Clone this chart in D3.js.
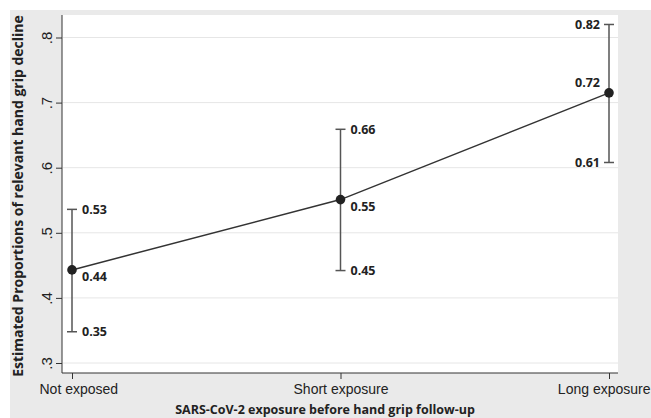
<!DOCTYPE html>
<html>
<head>
<meta charset="utf-8">
<script src="https://cdn.jsdelivr.net/npm/d3@7"></script>
<style>
  body { margin: 0; background: #fff; }
  svg { display: block; font-family: "Open Sans", "Liberation Sans", sans-serif; }
</style>
</head>
<body>
<div id="chart"></div>
<script>
var categories = ["Not exposed", "Short exposure", "Long exposure"];
var estimates = [0.443, 0.551, 0.715];
var lower = [0.348, 0.442, 0.608];
var upper = [0.536, 0.659, 0.820];
var labelsEst = ["0.44", "0.55", "0.72"];
var labelsLow = ["0.35", "0.45", "0.61"];
var labelsUp = ["0.53", "0.66", "0.82"];
var yTicks = [0.3, 0.4, 0.5, 0.6, 0.7, 0.8];

var width = 651, height = 418;

var svg = d3.select("#chart").append("svg")
  .attr("width", width)
  .attr("height", height);

// outer gray panel
svg.append("rect")
  .attr("x", 10).attr("y", 10)
  .attr("width", width - 10).attr("height", height - 10)
  .attr("fill", "#eaeaea");

var plot = { left: 62, right: 618, top: 15, bottom: 373 };

svg.append("rect")
  .attr("x", plot.left).attr("y", plot.top)
  .attr("width", plot.right - plot.left).attr("height", plot.bottom - plot.top)
  .attr("fill", "#fff");

var x = d3.scalePoint()
  .domain(categories)
  .range([72, 609]);

var y = d3.scaleLinear()
  .domain([0.3, 0.8])
  .range([363, 37.5]);

// gridlines
svg.append("g")
  .selectAll("line")
  .data(yTicks)
  .enter().append("line")
  .attr("x1", plot.left + 1).attr("x2", plot.right)
  .attr("y1", d => y(d)).attr("y2", d => y(d))
  .attr("stroke", "#e6e6e6")
  .attr("stroke-width", 1);

// y axis
var yAxis = svg.append("g")
  .attr("transform", `translate(${plot.left},0)`)
  .call(d3.axisLeft(y).tickValues(yTicks).tickSize(6).tickSizeOuter(0)
    .tickFormat(d => d3.format(".1f")(d).replace(/^0/, "")));
yAxis.select(".domain").attr("d", `M0,${plot.top}V${plot.bottom}`).attr("stroke", "#333");
yAxis.selectAll(".tick line").attr("stroke", "#333");
yAxis.selectAll(".tick text")
  .attr("transform", "rotate(-90)")
  .attr("x", 0).attr("y", -10)
  .attr("dy", 0)
  .attr("text-anchor", "middle")
  .attr("fill", "#222")
  .style("font-size", "15px");

// x axis
var xAxis = svg.append("g")
  .attr("transform", `translate(0,${plot.bottom})`)
  .call(d3.axisBottom(x).tickSize(6).tickSizeOuter(0));
xAxis.select(".domain").attr("d", `M${plot.left},0H${plot.right}`).attr("stroke", "#333");
xAxis.selectAll(".tick line").attr("stroke", "#333");
xAxis.selectAll(".tick text")
  .attr("y", 11)
  .attr("fill", "#222")
  .style("font-size", "14px");
// outer labels are pushed inside the panel
xAxis.selectAll(".tick text")
  .filter(d => d === categories[0])
  .attr("text-anchor", "start")
  .attr("x", 39 - x(categories[0]));
xAxis.selectAll(".tick text")
  .filter(d => d === categories[categories.length - 1])
  .attr("text-anchor", "end")
  .attr("x", width - 1 - x(categories[categories.length - 1]));

// axis titles
svg.append("text")
  .attr("transform", `translate(23,${(plot.top + plot.bottom) / 2 + 2}) rotate(-90)`)
  .attr("text-anchor", "middle")
  .style("font-size", "14px")
  .style("font-weight", "bold")
  .attr("fill", "#222")
  .text("Estimated Proportions of relevant hand grip decline");

svg.append("text")
  .attr("x", 325).attr("y", 414)
  .attr("text-anchor", "middle")
  .style("font-size", "12.5px")
  .style("font-weight", "bold")
  .attr("fill", "#222")
  .text("SARS-CoV-2 exposure before hand grip follow-up");

var data = categories.map((c, i) => ({
  cat: c, est: estimates[i], lo: lower[i], hi: upper[i],
  le: labelsEst[i], ll: labelsLow[i], lu: labelsUp[i], i: i
}));

// error bars
var bars = svg.append("g").selectAll("g").data(data).enter().append("g")
  .attr("stroke", "#555").attr("stroke-width", 1.5);
bars.append("line")
  .attr("x1", d => x(d.cat)).attr("x2", d => x(d.cat))
  .attr("y1", d => y(d.lo)).attr("y2", d => y(d.hi));
bars.append("line")
  .attr("x1", d => x(d.cat) - 5).attr("x2", d => x(d.cat) + 5)
  .attr("y1", d => y(d.lo)).attr("y2", d => y(d.lo));
bars.append("line")
  .attr("x1", d => x(d.cat) - 5).attr("x2", d => x(d.cat) + 5)
  .attr("y1", d => y(d.hi)).attr("y2", d => y(d.hi));

// connecting line
svg.append("path")
  .datum(data)
  .attr("fill", "none")
  .attr("stroke", "#333")
  .attr("stroke-width", 1.5)
  .attr("d", d3.line().x(d => x(d.cat)).y(d => y(d.est)));

// markers
svg.append("g").selectAll("circle").data(data).enter().append("circle")
  .attr("cx", d => x(d.cat)).attr("cy", d => y(d.est))
  .attr("r", 4.8)
  .attr("fill", "#222");

// value labels
var labels = svg.append("g")
  .style("font-size", "12.5px")
  .style("font-weight", "bold")
  .attr("fill", "#222");

data.forEach(d => {
  var last = d.i === categories.length - 1;
  var dx = last ? -9 : 10;
  var anchor = last ? "end" : "start";
  var cx = x(d.cat);
  labels.append("text").attr("x", cx + dx).attr("y", y(d.hi)).attr("dy", "0.35em")
    .attr("text-anchor", anchor).text(d.lu);
  labels.append("text").attr("x", cx + dx).attr("y", y(d.lo)).attr("dy", "0.35em")
    .attr("text-anchor", anchor).text(d.ll);
  labels.append("text").attr("x", cx + dx).attr("y", y(d.est) + (last ? -10 : 7)).attr("dy", "0.35em")
    .attr("text-anchor", anchor).text(d.le);
});
</script>
</body>
</html>
